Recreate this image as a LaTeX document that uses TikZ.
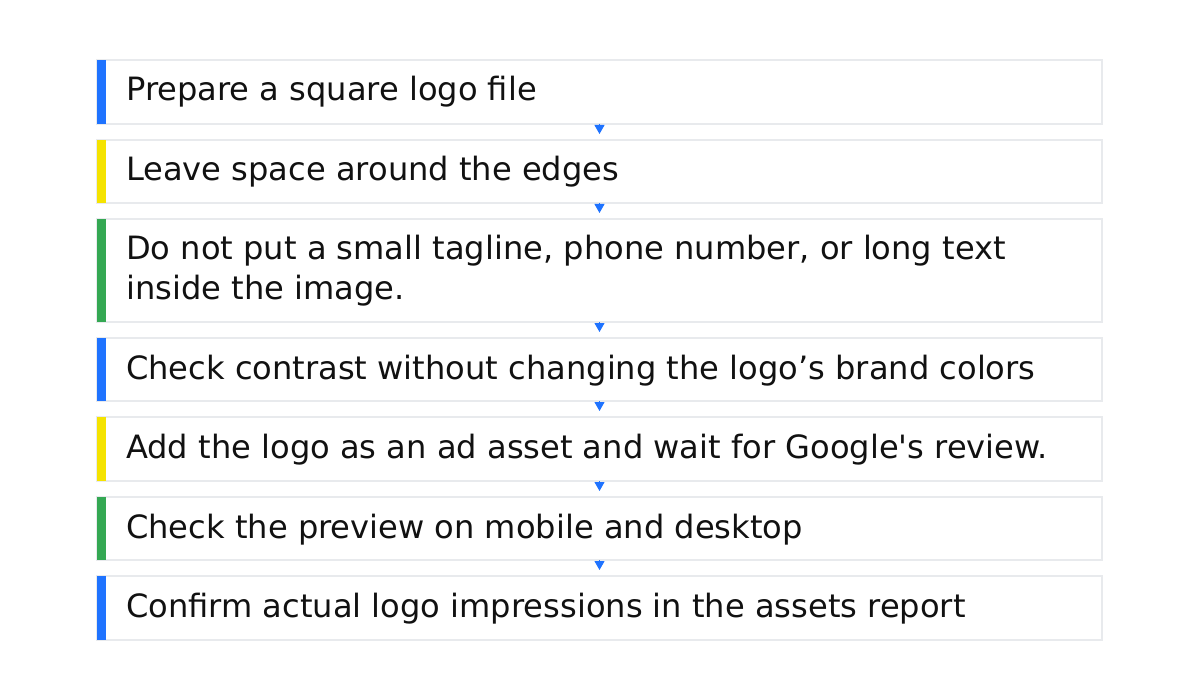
\documentclass[tikz,border=0pt]{standalone}
\usepackage{fontspec}
\setmainfont{DejaVu Sans}
\newfontfamily\stepfont{DejaVu Sans}
\usetikzlibrary{arrows.meta}
\definecolor{gblue}{HTML}{1F73FF}
\definecolor{gyellow}{HTML}{F5E300}
\definecolor{ggreen}{HTML}{34A853}
\definecolor{bordergray}{HTML}{E8EAED}
\definecolor{txtcol}{HTML}{111111}
\begin{document}
\begin{tikzpicture}[x=1bp,y=-1bp,
  stepbox/.style={draw=bordergray, line width=1.6bp, fill=white, minimum width=1005bp,
    inner sep=0pt, outer sep=0pt, anchor=north west},
  steptext/.style={anchor=base west, inner sep=0pt, text=txtcol,
    font=\stepfont\fontsize{32.1bp}{39.5bp}\selectfont},
  flowarrow/.style={draw=gblue, line width=1bp, -{Triangle[width=10bp,length=9bp]},
    shorten >=6bp}]
\fill[white] (0,0) rectangle (1200,700);
\useasboundingbox (0,0) rectangle (1200,700);

\node[stepbox, minimum height=64bp]  (b1) at (97,60)  {};
\node[stepbox, minimum height=63bp]  (b2) at (97,140) {};
\node[stepbox, minimum height=103bp] (b3) at (97,219) {};
\node[stepbox, minimum height=63bp]  (b4) at (97,338) {};
\node[stepbox, minimum height=64bp]  (b5) at (97,417) {};
\node[stepbox, minimum height=63bp]  (b6) at (97,497) {};
\node[stepbox, minimum height=64bp]  (b7) at (97,576) {};

\fill[gblue]   (b1.north west) rectangle ([xshift=9bp]b1.south west);
\fill[gyellow] (b2.north west) rectangle ([xshift=9bp]b2.south west);
\fill[ggreen]  (b3.north west) rectangle ([xshift=9bp]b3.south west);
\fill[gblue]   (b4.north west) rectangle ([xshift=9bp]b4.south west);
\fill[gyellow] (b5.north west) rectangle ([xshift=9bp]b5.south west);
\fill[ggreen]  (b6.north west) rectangle ([xshift=9bp]b6.south west);
\fill[gblue]   (b7.north west) rectangle ([xshift=9bp]b7.south west);

\node[steptext] (t1) at (126,101) {Prepare a square logo file};
\node[steptext] (t2) at (126,181) {Leave space around the edges};
\node[steptext, align=left] (t3) at (126,299) {Do not put a small tagline, phone number, or long text\\inside the image.};
\node[steptext] (t4) at (126,379) {Check contrast without changing the logo’s brand colors};
\node[steptext] (t5) at (126,458) {Add the logo as an ad asset and wait for Google's review.};
\node[steptext] (t6) at (126,538) {Check the preview on mobile and desktop};
\node[steptext] (t7) at (126,617) {Confirm actual logo impressions in the assets report};

\draw[flowarrow] (b1.south) -- (b2.north);
\draw[flowarrow] (b2.south) -- (b3.north);
\draw[flowarrow] (b3.south) -- (b4.north);
\draw[flowarrow] (b4.south) -- (b5.north);
\draw[flowarrow] (b5.south) -- (b6.north);
\draw[flowarrow] (b6.south) -- (b7.north);
\end{tikzpicture}
\end{document}
